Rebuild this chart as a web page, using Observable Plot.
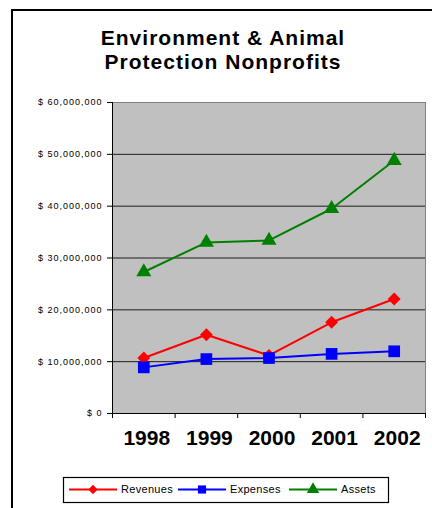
<!DOCTYPE html>
<html>
<head>
<meta charset="utf-8">
<script src="https://cdn.jsdelivr.net/npm/d3@7"></script>
<script src="https://cdn.jsdelivr.net/npm/@observablehq/plot@0.6"></script>
<style>
  html, body { margin: 0; padding: 0; background: #fff; }
  #wrap { position: relative; width: 432px; height: 508px; overflow: hidden; font-family: "Liberation Sans", Arial, sans-serif; }
  #border { position: absolute; left: 11px; top: 9px; width: 440px; height: 520px; border-left: 2px solid #000; border-top: 2px solid #000; }
  #title { position: absolute; left: 12px; top: 26px; width: 422px; text-align: center; font-weight: bold; font-size: 21px; line-height: 24px; letter-spacing: 1px; color: #000; }
  #chart { position: absolute; left: 0; top: 0; }
  #legend { position: absolute; left: 0; top: 0; }
  [aria-label="y-axis tick label"] text { letter-spacing: 1px; }
</style>
</head>
<body>
<div id="wrap">
  <div id="border"></div>
  <div id="title">Environment &amp; Animal<br>Protection Nonprofits</div>
  <div id="chart"></div>
  <svg id="legend" width="432" height="508"></svg>
</div>
<script>
const years = [1998, 1999, 2000, 2001, 2002];
const revenues = [10.7e6, 15.2e6, 11.2e6, 17.6e6, 22.1e6];
const expenses = [8.9e6, 10.5e6, 10.7e6, 11.5e6, 12.0e6];
const assets = [27.3e6, 33.0e6, 33.4e6, 39.5e6, 48.8e6];
const seriesNames = ["Revenues", "Expenses", "Assets"];
const seriesColors = ["#ff0000", "#0000ff", "#008000"];
const seriesSymbols = ["diamond2", "square", "triangle"];
const yTicks = [0, 10e6, 20e6, 30e6, 40e6, 50e6, 60e6];

const seriesValues = [revenues, expenses, assets];
const data = [];
seriesNames.forEach((name, i) => {
  years.forEach((yr, j) => data.push({series: name, year: yr, value: seriesValues[i][j]}));
});
const boundaries = [years[0] - 0.5, ...years.map(y => y + 0.5)];
const fmt = d3.format(",");

const symR = {Revenues: 5.8, Expenses: 6.6, Assets: 5.6};
const legendR = {Revenues: 4.2, Expenses: 4.6, Assets: 4.6};

const marks = [
  Plot.frame({fill: "#c0c0c0", stroke: "#808080"}),
  Plot.ruleY(yTicks.filter(d => d > 0 && d < 60e6), {stroke: "#000", strokeOpacity: 0.85}),
  Plot.axisY({ticks: yTicks, tickSize: 5, tickPadding: 5, tickFormat: d => "$ " + fmt(d), fontSize: 9, label: null}),
  Plot.axisX({ticks: boundaries, tickSize: 5, tickFormat: () => "", label: null}),
  Plot.axisX({ticks: years, tickSize: 0, tickPadding: 17, tickFormat: d => String(d), fontSize: 21, fontWeight: "bold", dx: 3, label: null}),
  Plot.ruleX([boundaries[0]], {stroke: "#000"}),
  Plot.ruleY([0], {stroke: "#000"})
];
seriesNames.forEach((name, i) => {
  const d = data.filter(r => r.series === name);
  marks.push(Plot.line(d, {x: "year", y: "value", stroke: seriesColors[i], strokeWidth: 2}));
  marks.push(Plot.dot(d, {x: "year", y: "value", fill: seriesColors[i], symbol: () => seriesSymbols[i], r: symR[name], stroke: "none"}));
});

const chart = Plot.plot({
  width: 432,
  height: 508,
  marginTop: 102,
  marginBottom: 95,
  marginLeft: 112,
  marginRight: 7,
  x: {domain: [boundaries[0], boundaries[boundaries.length - 1]]},
  y: {domain: [0, 60e6]},
  symbol: {type: "identity"},
  style: {fontFamily: '"Liberation Sans", Arial, sans-serif', background: "transparent", color: "#000"},
  marks
});
document.getElementById("chart").appendChild(chart);

// Legend
const lg = d3.select("#legend");
lg.append("rect").attr("x", 63.5).attr("y", 477.5).attr("width", 325).attr("height", 25)
  .attr("fill", "#fff").attr("stroke", "#000").attr("stroke-width", 1.2);
const legendX = [69, 178, 289];
const legendY = 489.5;
seriesNames.forEach((name, i) => {
  const x0 = legendX[i];
  const g = lg.append("g");
  g.append("line").attr("x1", x0).attr("x2", x0 + 48).attr("y1", legendY).attr("y2", legendY)
    .attr("stroke", seriesColors[i]).attr("stroke-width", 2);
  const symType = [d3.symbolDiamond2, d3.symbolSquare, d3.symbolTriangle][i];
  const r = legendR[name];
  g.append("path").attr("d", d3.symbol(symType, Math.PI * r * r)())
    .attr("transform", `translate(${x0 + 24},${legendY})`).attr("fill", seriesColors[i]);
  g.append("text").attr("x", x0 + 52).attr("y", legendY).attr("dy", "0.35em")
    .attr("font-size", 11).attr("letter-spacing", "0.3px")
    .attr("font-family", '"Liberation Sans", Arial, sans-serif').attr("fill", "#000").text(name);
});
</script>
</body>
</html>
